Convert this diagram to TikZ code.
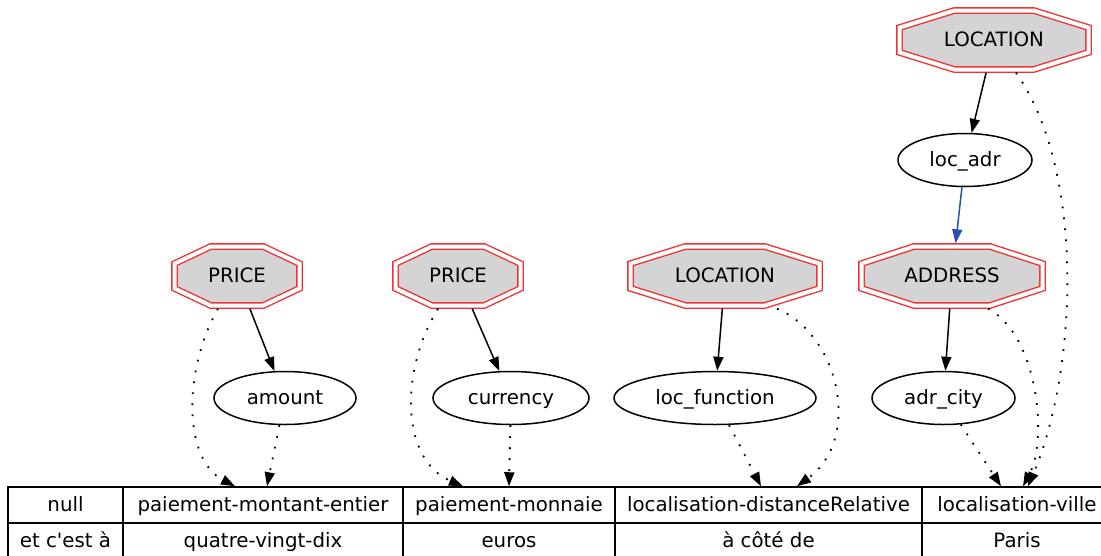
\documentclass[tikz,border=0pt]{standalone}
\usepackage{fontspec}
\setmainfont{DejaVu Sans}
\usepackage{xcolor}
\usetikzlibrary{shapes.geometric,arrows.meta}

\definecolor{linkblue}{RGB}{40,80,170}
\definecolor{octred}{RGB}{240,50,50}

% double octagon: name, x, y, width, text
\newcommand{\octbox}[5]{%
  \draw[octline] (#2-0.21*#4,#3-29.5) -- (#2+0.21*#4,#3-29.5) -- (#2+0.5*#4,#3-12.4)
    -- (#2+0.5*#4,#3+12.4) -- (#2+0.21*#4,#3+29.5) -- (#2-0.21*#4,#3+29.5)
    -- (#2-0.5*#4,#3+12.4) -- (#2-0.5*#4,#3-12.4) -- cycle;
  \node[oct, minimum width=#4pt+6pt] (#1) at (#2,#3) {#5};}

\begin{document}
\begin{tikzpicture}[x=1pt,y=-1pt,
    >={Triangle[length=14pt,width=10pt]},
    every node/.style={font=\fontsize{19.8}{24}\selectfont, text height=14pt, text depth=2pt, inner sep=0pt},
    octline/.style={draw=octred, double=white, double distance=4pt, line width=1.4pt, fill=black!17},
    oct/.style={minimum height=65pt},
    attr/.style={ellipse, draw, line width=1.5pt, minimum height=53pt},
    cell/.style={draw, line width=1.5pt, minimum height=36pt},
    link/.style={->, line width=1.5pt},
    ref/.style={->, line width=1.8pt, dash pattern=on 1.8pt off 9.2pt}]
        \useasboundingbox (0,0) rectangle (1101,555);

        % Concept nodes
        \octbox{price1}{237}{276}{125}{PRICE}
        \octbox{price2}{458}{276}{125}{PRICE}
        \octbox{locat1}{725}{276}{189}{LOCATION}
        \octbox{address}{952}{276}{181}{ADDRESS}
        \octbox{locat2}{994}{40}{189}{LOCATION}

        % Attribute nodes
        \node[attr, minimum width=142pt] (amount) at (285,398) {amount};
        \node[attr, minimum width=156pt] (currency) at (511,398) {currency};
        \node[attr, minimum width=202pt] (locfun) at (715,398) {loc\_function};
        \node[attr, minimum width=143pt] (adrcity) at (943.5,398) {adr\_city};
        \node[attr, minimum width=134pt] (locadr) at (965,160) {loc\_adr};

        % Table
        \node[cell, minimum width=115pt] (key1) at (65.5,505) {null};
        \node[cell, minimum width=280pt] (key2) at (263,505) {paiement-montant-entier};
        \node[cell, minimum width=212pt] (key3) at (509,505) {paiement-monnaie};
        \node[cell, minimum width=307pt] (key4) at (768.5,505) {localisation-distanceRelative};
        \node[cell, minimum width=190pt] (key5) at (1017,505) {localisation-ville};
        \node[cell, minimum width=115pt] (val1) at (65.5,541) {et c\textquotesingle est à};
        \node[cell, minimum width=280pt] (val2) at (263,541) {quatre-vingt-dix};
        \node[cell, minimum width=212pt] (val3) at (509,541) {euros};
        \node[cell, minimum width=307pt] (val4) at (768.5,541) {à côté de};
        \node[cell, minimum width=190pt] (val5) at (1017,541) {Paris};

        % Solid links
        \draw[link] (locat2) -- (locadr);
        \draw[link, color=linkblue] (locadr) -- (address);
        \draw[link] (price1) -- (amount);
        \draw[link] (price2) -- (currency);
        \draw[link] (locat1) -- (locfun);
        \draw[link] (address) -- (adrcity);

        % Dotted links to the table
        \draw[ref] (amount) -- ([xshift=4pt]key2.north);
        \draw[ref] (currency) -- (key3.north);
        \draw[ref] (locfun) -- ([xshift=-7.5pt]key4.north);
        \draw[ref] (adrcity) -- ([xshift=-16pt]key5.north);
        \draw[ref] ([xshift=-19pt]price1.south) .. controls +(-35,61.5) and +(-52,-27) .. ([xshift=-28pt]key2.north);
        \draw[ref] ([xshift=-20pt]price2.south) .. controls +(-38,61.5) and +(-63,-27) .. ([xshift=-46pt]key3.north);
        \draw[ref] ([xshift=52pt]locat1.south) .. controls +(63,26.5) and +(65,-47) .. ([xshift=28.5pt]key4.north);
        \draw[ref] ([xshift=36pt]address.south) .. controls +(50,26.5) and +(25,-47) .. ([xshift=6pt]key5.north);
        \draw[ref] ([xshift=22pt]locat2.south) .. controls +(69,97.5) and +(50,-117) .. ([xshift=11pt]key5.north);
    \end{tikzpicture}
\end{document}
